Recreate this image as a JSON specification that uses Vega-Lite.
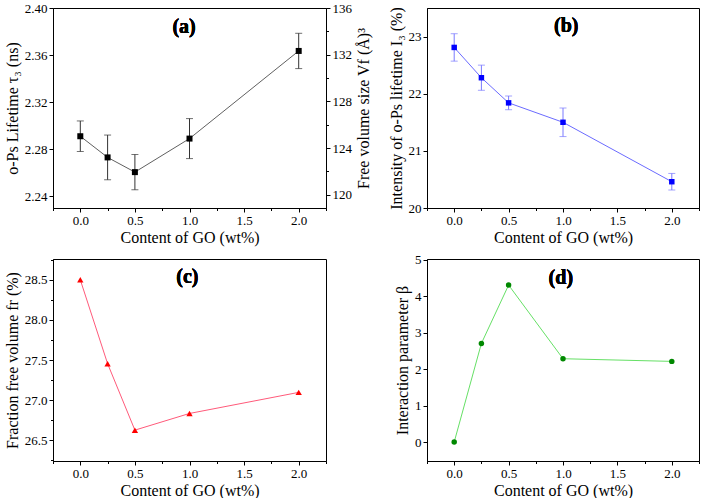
{
  "$schema": "https://vega.github.io/schema/vega-lite/v6.json",
  "background": "white",
  "padding": {"left": 3, "top": 1, "right": 2, "bottom": 2},
  "bounds": "flush",
  "columns": 2,
  "spacing": {"row": 51, "column": 101},
  "config": {
    "font": "Liberation Serif",
    "view": {"stroke": "black", "strokeWidth": 1},
    "axis": {
      "labelFont": "Liberation Serif", "labelFontSize": 13, "labelColor": "black",
      "titleFont": "Liberation Serif", "titleFontSize": 16, "titleFontWeight": "normal", "titleColor": "black",
      "domainColor": "black", "tickColor": "black", "grid": false, "tickSize": 4, "labelPadding": 2, "titlePadding": 4
    }
  },
  "concat": [
    {
      "width": 273, "height": 200,
      "data": {"values": [
        {"go": 0, "tau": 2.291, "err": 0.013, "vf": 125.06},
        {"go": 0.25, "tau": 2.273, "err": 0.019, "vf": 123.23},
        {"go": 0.5, "tau": 2.2605, "err": 0.015, "vf": 121.95},
        {"go": 1.0, "tau": 2.289, "err": 0.017, "vf": 124.83},
        {"go": 2.0, "tau": 2.3635, "err": 0.015, "vf": 132.37}
      ]},
      "encoding": {
        "x": {"field": "go", "type": "quantitative", "scale": {"domain": [-0.25, 2.25], "nice": false},
              "axis": {"values": [-0.25, 0, 0.25, 0.5, 0.75, 1, 1.25, 1.5, 1.75, 2, 2.25], "format": ".1f",
                       "labelExpr": "round(datum.value*4)%2==0 ? datum.label : ''",
                       "tickSize": {"condition": {"test": "round(datum.value*4)%2!=0", "value": 2.5}, "value": 4},
                       "title": "Content of GO (wt%)", "titlePadding": 2}}
      },
      "layer": [
        {
          "layer": [
            {"mark": {"type": "line", "color": "#606060", "strokeWidth": 1},
             "encoding": {"y": {"field": "tau", "type": "quantitative", "title": "o-Ps Lifetime τ₃ (ns)",
               "scale": {"domain": [2.23, 2.40], "nice": false, "zero": false},
               "axis": {"orient": "left", "values": [2.24, 2.26, 2.28, 2.30, 2.32, 2.34, 2.36, 2.38, 2.40], "format": ".2f",
                        "labelExpr": "round(datum.value*100)%4==0 ? datum.label : ''",
                        "tickSize": {"condition": {"test": "round(datum.value*100)%4!=0", "value": 2.5}, "value": 4}}}}},
            {"mark": {"type": "errorbar", "ticks": {"size": 7}, "color": "#333333"},
             "encoding": {"y": {"field": "tau", "type": "quantitative", "title": "o-Ps Lifetime τ₃ (ns)"}, "yError": {"field": "err"}}},
            {"mark": {"type": "square", "filled": true, "color": "black", "size": 36, "opacity": 1},
             "encoding": {"y": {"field": "tau", "type": "quantitative", "title": "o-Ps Lifetime τ₃ (ns)"}}},
            {"mark": {"type": "text", "text": "(a)", "fontWeight": "bold", "fontSize": 20, "font": "Liberation Serif"},
             "encoding": {"x": {"datum": 0.95}, "y": {"datum": 2.384}}}
          ]
        },
        {
          "mark": {"type": "point", "opacity": 0},
          "encoding": {
            "y": {"field": "vf", "type": "quantitative", "scale": {"domain": [118.86, 136], "nice": false, "zero": false},
                  "axis": {"orient": "right", "values": [120, 122, 124, 126, 128, 130, 132, 134, 136],
                           "labelExpr": "round(datum.value)%4==0 ? datum.label : ''",
                           "tickSize": {"condition": {"test": "round(datum.value)%4!=0", "value": 2.5}, "value": 4},
                           "title": "Free volume size Vf (Å)³", "titleAngle": 270, "titleBaseline": "top"}}
          }
        }
      ],
      "resolve": {"scale": {"y": "independent"}}
    },
    {
      "width": 272, "height": 200,
      "data": {"values": [
        {"go": 0, "i3": 22.81, "err": 0.24},
        {"go": 0.25, "i3": 22.28, "err": 0.22},
        {"go": 0.5, "i3": 21.84, "err": 0.12},
        {"go": 1.0, "i3": 21.5, "err": 0.25},
        {"go": 2.0, "i3": 20.46, "err": 0.145}
      ]},
      "encoding": {
        "x": {"field": "go", "type": "quantitative", "scale": {"domain": [-0.25, 2.25], "nice": false},
              "axis": {"values": [-0.25, 0, 0.25, 0.5, 0.75, 1, 1.25, 1.5, 1.75, 2, 2.25], "format": ".1f",
                       "labelExpr": "round(datum.value*4)%2==0 ? datum.label : ''",
                       "tickSize": {"condition": {"test": "round(datum.value*4)%2!=0", "value": 2.5}, "value": 4},
                       "title": "Content of GO (wt%)", "titlePadding": 2}}
      },
      "layer": [
        {"mark": {"type": "line", "color": "#6b6bff", "strokeWidth": 1},
         "encoding": {"y": {"field": "i3", "type": "quantitative", "title": "Intensity of o-Ps lifetime I₃ (%)",
           "scale": {"domain": [20, 23.5], "nice": false, "zero": false},
           "axis": {"values": [20, 20.5, 21, 21.5, 22, 22.5, 23, 23.5], "format": "d",
                    "labelExpr": "round(datum.value*2)%2==0 ? datum.label : ''",
                    "tickSize": {"condition": {"test": "round(datum.value*2)%2!=0", "value": 2.5}, "value": 4}}}}},
        {"mark": {"type": "errorbar", "ticks": {"size": 7}, "color": "#7a7aff"},
         "encoding": {"y": {"field": "i3", "type": "quantitative", "title": "Intensity of o-Ps lifetime I₃ (%)"}, "yError": {"field": "err"}}},
        {"mark": {"type": "square", "filled": true, "color": "#0000ff", "size": 30, "opacity": 1},
         "encoding": {"y": {"field": "i3", "type": "quantitative", "title": "Intensity of o-Ps lifetime I₃ (%)"}}},
        {"mark": {"type": "text", "text": "(b)", "fontWeight": "bold", "fontSize": 20, "font": "Liberation Serif"},
         "encoding": {"x": {"datum": 1.03}, "y": {"datum": 23.18}}}
      ]
    },
    {
      "width": 273, "height": 202,
      "data": {"values": [
        {"go": 0, "fr": 28.5},
        {"go": 0.25, "fr": 27.454},
        {"go": 0.5, "fr": 26.625},
        {"go": 1.0, "fr": 26.833},
        {"go": 2.0, "fr": 27.096}
      ]},
      "encoding": {
        "x": {"field": "go", "type": "quantitative", "scale": {"domain": [-0.25, 2.25], "nice": false},
              "axis": {"values": [-0.25, 0, 0.25, 0.5, 0.75, 1, 1.25, 1.5, 1.75, 2, 2.25], "format": ".1f",
                       "labelExpr": "round(datum.value*4)%2==0 ? datum.label : ''",
                       "tickSize": {"condition": {"test": "round(datum.value*4)%2!=0", "value": 2.5}, "value": 4},
                       "title": "Content of GO (wt%)", "titlePadding": 2}},
        "y": {"field": "fr", "type": "quantitative", "title": "Fraction free volume fr (%)",
              "scale": {"domain": [26.24, 28.76], "nice": false, "zero": false},
              "axis": {"values": [26.25, 26.5, 26.75, 27.0, 27.25, 27.5, 27.75, 28.0, 28.25, 28.5, 28.75], "format": ".1f",
                       "labelExpr": "round(datum.value*4)%2==0 ? datum.label : ''",
                       "tickSize": {"condition": {"test": "round(datum.value*4)%2!=0", "value": 2.5}, "value": 4}}}
      },
      "layer": [
        {"mark": {"type": "line", "color": "#ff5a7a", "strokeWidth": 1}},
        {"mark": {"type": "point", "shape": "triangle-up", "filled": true, "color": "#ff0000", "size": 40, "opacity": 1}},
        {"mark": {"type": "text", "text": "(c)", "fontWeight": "bold", "fontSize": 20, "font": "Liberation Serif"},
         "encoding": {"x": {"datum": 0.98}, "y": {"datum": 28.54}}}
      ]
    },
    {
      "width": 272, "height": 202,
      "data": {"values": [
        {"go": 0, "beta": 0.0},
        {"go": 0.25, "beta": 2.705},
        {"go": 0.5, "beta": 4.305},
        {"go": 1.0, "beta": 2.285},
        {"go": 2.0, "beta": 2.212}
      ]},
      "encoding": {
        "x": {"field": "go", "type": "quantitative", "scale": {"domain": [-0.25, 2.25], "nice": false},
              "axis": {"values": [-0.25, 0, 0.25, 0.5, 0.75, 1, 1.25, 1.5, 1.75, 2, 2.25], "format": ".1f",
                       "labelExpr": "round(datum.value*4)%2==0 ? datum.label : ''",
                       "tickSize": {"condition": {"test": "round(datum.value*4)%2!=0", "value": 2.5}, "value": 4},
                       "title": "Content of GO (wt%)", "titlePadding": 2}},
        "y": {"field": "beta", "type": "quantitative", "title": "Interaction parameter β",
              "scale": {"domain": [-0.52, 5.02], "nice": false, "zero": false},
              "axis": {"values": [0, 0.5, 1, 1.5, 2, 2.5, 3, 3.5, 4, 4.5, 5], "format": "d",
                       "labelExpr": "round(datum.value*2)%2==0 ? datum.label : ''",
                       "tickSize": {"condition": {"test": "round(datum.value*2)%2!=0", "value": 2.5}, "value": 4}}}
      },
      "layer": [
        {"mark": {"type": "line", "color": "#66e066", "strokeWidth": 1}},
        {"mark": {"type": "circle", "color": "#008800", "size": 30, "opacity": 1}},
        {"mark": {"type": "text", "text": "(d)", "fontWeight": "bold", "fontSize": 20, "font": "Liberation Serif"},
         "encoding": {"x": {"datum": 0.98}, "y": {"datum": 4.49}}}
      ]
    }
  ]
}
